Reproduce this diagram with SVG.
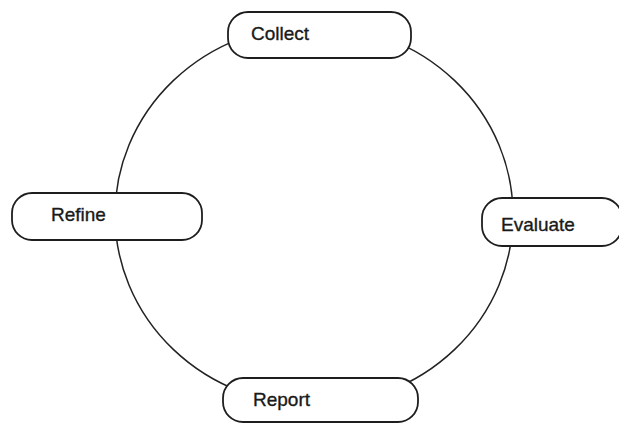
<svg xmlns="http://www.w3.org/2000/svg" width="619" height="424" viewBox="0 0 619 424">
<style>
.node rect{fill:#fff;stroke:#1e1e1e;stroke-width:1.8}
.node text{font-family:"Liberation Sans",Arial,sans-serif;font-size:19px;fill:#1a1a1a;stroke:#1a1a1a;stroke-width:0.35}
.conn path{fill:none;stroke:#222;stroke-width:1.5}
</style>
<rect width="619" height="424" fill="#fff"/>
<g id="connectors" class="conn">
<path d="M314,25 A199,190 0 0 1 513,215"/>
<path d="M513,215 A199,190 0 0 1 314,405"/>
<path d="M314,405 A199,190 0 0 1 115,215"/>
<path d="M115,215 A199,190 0 0 1 314,25"/>
</g>
<g id="collect" class="node">
<rect x="228" y="12" width="183" height="46" rx="20" ry="20"/>
<text x="251" y="40">Collect</text>
</g>
<g id="evaluate" class="node">
<rect x="482" y="198" width="140" height="48" rx="20" ry="20"/>
<text x="501" y="230.5">Evaluate</text>
</g>
<g id="report" class="node">
<rect x="223" y="378" width="195" height="44" rx="20" ry="20"/>
<text x="253" y="405.5">Report</text>
</g>
<g id="refine" class="node">
<rect x="12" y="193" width="190" height="47" rx="20" ry="20"/>
<text x="51" y="220.5">Refine</text>
</g>
</svg>
